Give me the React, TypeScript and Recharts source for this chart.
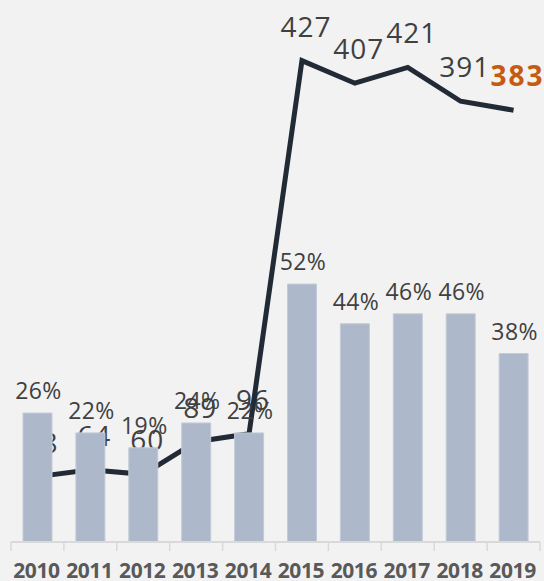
import React from 'react';
import { ComposedChart, Bar, Line, XAxis, YAxis, LabelList } from 'recharts';

const years = ['2010', '2011', '2012', '2013', '2014', '2015', '2016', '2017', '2018', '2019'];
const shares = [26, 22, 19, 24, 22, 52, 44, 46, 46, 38];
const counts = [58, 64, 60, 89, 96, 427, 407, 421, 391, 383];

const data = years.map((y, i) => ({ year: y, share: shares[i], count: counts[i] }));

const W = 544;
const H = 581;
const M = { top: 46, right: 4, left: 11, bottom: 0 };
const BAND = (W - M.left - M.right) / years.length;
const FONT = '"Open Sans", sans-serif';

const YearTick = (props: any) => {
  const { x, y, payload, index } = props;
  const left = x - BAND / 2;
  const right = x + BAND / 2;
  return (
    <g>
      <line x1={left} x2={left} y1={y} y2={y + 9} stroke="#d9d9d9" strokeWidth={1.5} />
      {index === years.length - 1 && (
        <line x1={right} x2={right} y1={y} y2={y + 9} stroke="#d9d9d9" strokeWidth={1.5} />
      )}
      <text
        x={x - 1}
        y={y + 36}
        textAnchor="middle"
        fontFamily={FONT}
        fontWeight={700}
        fontSize={21}
        letterSpacing={-0.4}
        fill="#595959"
      >
        {payload.value}
      </text>
    </g>
  );
};

const CountLabel = (props: any) => {
  const { x, y, value, index } = props;
  const last = index === counts.length - 1;
  return (
    <text
      x={x + 4}
      y={y - 24}
      textAnchor="middle"
      fontFamily={FONT}
      fontSize={28}
      fontWeight={last ? 700 : 400}
      letterSpacing={last ? 2 : 1}
      fill={last ? '#c55a11' : '#404040'}
    >
      {value}
    </text>
  );
};

const ShareLabel = (props: any) => {
  const { x, y, width, value } = props;
  return (
    <text
      x={x + width / 2 + 1}
      y={y - 14}
      textAnchor="middle"
      fontFamily={FONT}
      fontSize={23}
      letterSpacing={0.4}
      fill="#404040"
    >
      {value}%
    </text>
  );
};

export default function App() {
  const zProps: any = { zIndex: 100 };
  return (
    <div style={{ position: 'absolute', left: 0, top: 0, width: W, height: H, background: '#f2f2f2' }}>
      <ComposedChart width={W} height={H} data={data} margin={M}>
        <XAxis
          dataKey="year"
          height={39}
          axisLine={{ stroke: '#d9d9d9', strokeWidth: 2 }}
          tickLine={false}
          tickSize={0}
          tickMargin={0}
          interval={0}
          tick={<YearTick />}
        />
        <YAxis yAxisId="share" hide domain={[0, 100]} />
        <YAxis yAxisId="count" hide domain={[0, 440]} />
        <Line
          {...zProps}
          yAxisId="count"
          dataKey="count"
          type="linear"
          stroke="#222a35"
          strokeWidth={5}
          dot={false}
          activeDot={false}
          isAnimationActive={false}
        >
          <LabelList {...zProps} dataKey="count" content={<CountLabel />} />
        </Line>
        <Bar
          yAxisId="share"
          dataKey="share"
          barSize={29}
          fill="#adb9ca"
          stroke="#c3cbd8"
          strokeWidth={1}
          isAnimationActive={false}
        >
          <LabelList dataKey="share" content={<ShareLabel />} />
        </Bar>
      </ComposedChart>
    </div>
  );
}
